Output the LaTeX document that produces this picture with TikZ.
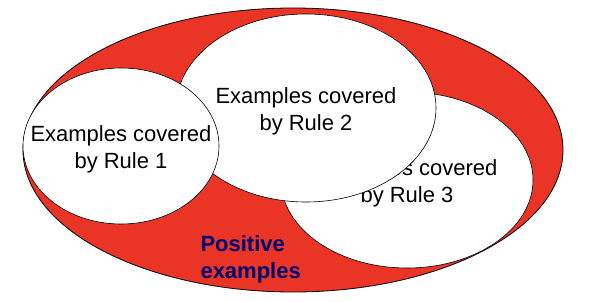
\documentclass[tikz,border=0pt]{standalone}
\usepackage{fontspec}
\setmainfont{Liberation Sans}
\usepackage{tikz}
\usetikzlibrary{shapes}
\definecolor{posred}{RGB}{234,52,38}
\definecolor{posnavy}{RGB}{0,0,112}

\begin{document}
\begin{tikzpicture}[x = 1pt, y = -1pt,
  cover/.style = {ellipse, draw, fill = white, inner sep = 0pt, line width = 0.6pt},
  cover text/.style = {font = \fontsize{22}{27}\selectfont, align = center, yshift = -3pt}]
\useasboundingbox (0,0) rectangle (602,302);
% all positive examples
\node[ellipse, draw, fill = posred, line width = 0.8pt, minimum width = 540pt, minimum height = 284pt] (pos) at (293,150) {};
% the three rules, last one drawn on top
\node[cover, minimum width = 252pt, minimum height = 176pt] (r3) at (407,180) {};
\node[cover text] (t3) at (r3) {Examples covered\\by Rule 3};
\node[cover, minimum width = 260pt, minimum height = 188pt] (r2) at (306,108) {};
\node[cover text] (t2) at (r2) {Examples covered\\by Rule 2};
\node[cover, minimum width = 196pt, minimum height = 156pt] (r1) at (121,146) {};
\node[cover text] (t1) at (r1) {Examples covered\\by Rule 1};
\node[anchor = west, font = \bfseries\fontsize{22}{27}\selectfont, text = posnavy, align = left] (poslabel) at (197,259) {Positive\\examples};
\end{tikzpicture}
\end{document}
